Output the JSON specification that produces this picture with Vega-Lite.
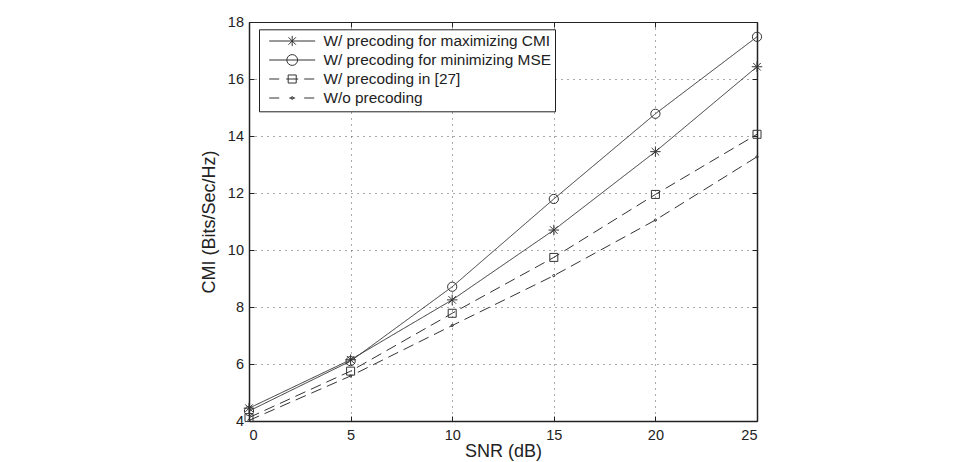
{
  "$schema": "https://vega.github.io/schema/vega-lite/v6.json",
  "width": 508,
  "height": 399,
  "autosize": {"type": "none"},
  "padding": {"left": 249, "top": 22, "right": 213, "bottom": 41},
  "background": "white",
  "config": {
    "font": "Liberation Sans",
    "view": {"stroke": "#222", "strokeWidth": 1}
  },
  "data": {
    "values": [
      {"series": "W/ precoding for maximizing CMI", "snr": 0, "cmi": 4.45},
      {"series": "W/ precoding for maximizing CMI", "snr": 5, "cmi": 6.15},
      {"series": "W/ precoding for maximizing CMI", "snr": 10, "cmi": 8.25},
      {"series": "W/ precoding for maximizing CMI", "snr": 15, "cmi": 10.7},
      {"series": "W/ precoding for maximizing CMI", "snr": 20, "cmi": 13.45},
      {"series": "W/ precoding for maximizing CMI", "snr": 25, "cmi": 16.43},
      {"series": "W/ precoding for minimizing MSE", "snr": 0, "cmi": 4.35},
      {"series": "W/ precoding for minimizing MSE", "snr": 5, "cmi": 6.1},
      {"series": "W/ precoding for minimizing MSE", "snr": 10, "cmi": 8.71},
      {"series": "W/ precoding for minimizing MSE", "snr": 15, "cmi": 11.79},
      {"series": "W/ precoding for minimizing MSE", "snr": 20, "cmi": 14.78},
      {"series": "W/ precoding for minimizing MSE", "snr": 25, "cmi": 17.48},
      {"series": "W/ precoding in [27]", "snr": 0, "cmi": 4.12},
      {"series": "W/ precoding in [27]", "snr": 5, "cmi": 5.75},
      {"series": "W/ precoding in [27]", "snr": 10, "cmi": 7.78},
      {"series": "W/ precoding in [27]", "snr": 15, "cmi": 9.74},
      {"series": "W/ precoding in [27]", "snr": 20, "cmi": 11.95},
      {"series": "W/ precoding in [27]", "snr": 25, "cmi": 14.06},
      {"series": "W/o precoding", "snr": 0, "cmi": 4.02},
      {"series": "W/o precoding", "snr": 5, "cmi": 5.58},
      {"series": "W/o precoding", "snr": 10, "cmi": 7.35},
      {"series": "W/o precoding", "snr": 15, "cmi": 9.1},
      {"series": "W/o precoding", "snr": 20, "cmi": 11.05},
      {"series": "W/o precoding", "snr": 25, "cmi": 13.27}
    ]
  },
  "layer": [
    {
      "mark": {"type": "line", "color": "#333", "strokeWidth": 1},
      "encoding": {
        "x": {
          "field": "snr", "type": "quantitative",
          "scale": {"domain": [0, 25], "nice": false, "zero": false},
          "axis": {
            "orient": "bottom", "values": [0, 5, 10, 15, 20, 25],
            "grid": true, "gridDash": [1, 5], "gridColor": "#555", "gridOpacity": 1,
            "domainColor": "#222", "domainWidth": 1.5,
            "tickSize": -5, "tickColor": "#222",
            "labelFontSize": 14.5, "labelColor": "#222", "labelPadding": 12,
            "title": "SNR (dB)", "titleFontSize": 18, "titleFontWeight": "normal", "titleColor": "#222",
            "titleX": 254, "titleY": 30, "titleAlign": "center", "titleBaseline": "middle"
          }
        },
        "y": {
          "field": "cmi", "type": "quantitative",
          "scale": {"domain": [4, 18], "nice": false, "zero": false},
          "axis": {
            "orient": "left", "values": [4, 6, 8, 10, 12, 14, 16, 18],
            "grid": true, "gridDash": [1, 5], "gridColor": "#555", "gridOpacity": 1,
            "domainColor": "#222", "domainWidth": 1.5,
            "tickSize": -5, "tickColor": "#222",
            "labelFontSize": 14.5, "labelColor": "#222", "labelPadding": 10.5,
            "title": "CMI (Bits/Sec/Hz)", "titleFontSize": 18, "titleFontWeight": "normal", "titleColor": "#222",
            "titleX": -40, "titleY": 199.5, "titleAlign": "center", "titleBaseline": "middle"
          }
        },
        "detail": {"field": "series"},
        "strokeDash": {
          "field": "series", "type": "nominal",
          "scale": {
            "domain": ["W/ precoding for maximizing CMI", "W/ precoding for minimizing MSE", "W/ precoding in [27]", "W/o precoding"],
            "range": [[1, 0], [1, 0], [11, 6], [11, 6]]
          },
          "legend": null
        }
      }
    },
    {
      "mark": {"type": "point", "filled": false, "color": "#333", "strokeWidth": 1, "opacity": 1},
      "encoding": {
        "x": {"field": "snr", "type": "quantitative", "axis": null},
        "y": {"field": "cmi", "type": "quantitative", "axis": null},
        "shape": {
          "field": "series", "type": "nominal",
          "scale": {
            "domain": ["W/ precoding for maximizing CMI", "W/ precoding for minimizing MSE", "W/ precoding in [27]", "W/o precoding"],
            "range": ["M0,-1V1M-1,0H1M-0.72,-0.72L0.72,0.72M-0.72,0.72L0.72,-0.72", "circle", "square", "circle"]
          },
          "legend": null
        },
        "size": {
          "field": "series", "type": "nominal",
          "scale": {
            "type": "ordinal",
            "domain": ["W/ precoding for maximizing CMI", "W/ precoding for minimizing MSE", "W/ precoding in [27]", "W/o precoding"],
            "range": [110, 85, 64, 5]
          },
          "legend": null
        }
      }
    },
    {
      "transform": [{"filter": "false"}],
      "mark": {"type": "point", "filled": false, "color": "#333", "strokeWidth": 1, "size": 144, "opacity": 1},
      "encoding": {
        "x": {
          "field": "snr", "type": "quantitative",
          "axis": {"orient": "top", "values": [0, 5, 10, 15, 20, 25], "labels": false, "title": null, "grid": false, "domainColor": "#222", "tickSize": -5, "tickColor": "#222"}
        },
        "y": {
          "field": "cmi", "type": "quantitative",
          "axis": {"orient": "right", "values": [4, 6, 8, 10, 12, 14, 16, 18], "labels": false, "title": null, "grid": false, "domainColor": "#222", "domainWidth": 1.5, "tickSize": -5, "tickColor": "#222"}
        },
        "shape": {
          "field": "series", "type": "nominal",
          "scale": {
            "domain": ["W/ precoding for maximizing CMI", "W/ precoding for minimizing MSE", "W/ precoding in [27]", "W/o precoding"],
            "range": [
              "M-3.83,0H3.83M0,-0.85V0.85M-0.62,-0.62L0.62,0.62M-0.62,0.62L0.62,-0.62",
              "M-3.83,0H-0.9M0.9,0H3.83M0.9,0A0.9,0.9 0 1,1 -0.9,0A0.9,0.9 0 1,1 0.9,0M-0.9,0H0.9",
              "M-3.83,0H-2.17M-1,0H1M2,0H3.67M-0.67,-0.67H0.67V0.67H-0.67Z",
              "M-3.83,0H-2.17M-0.5,0H0.5M2,0H3.67M0.22,0A0.22,0.22 0 1,1 -0.22,0A0.22,0.22 0 1,1 0.22,0"
            ]
          },
          "legend": {
            "title": null,
            "orient": "none",
            "legendX": 10,
            "legendY": 7.3,
            "padding": 4,
            "strokeColor": "#222",
            "fillColor": "white",
            "cornerRadius": 0,
            "symbolSize": 144,
            "symbolOffset": 21.5,
            "symbolFillColor": "transparent",
            "symbolStrokeColor": "#333",
            "symbolStrokeWidth": 1,
            "symbolOpacity": 1,
            "labelOffset": 23.5,
            "labelFontSize": 15.4,
            "labelColor": "#222",
            "labelLimit": 400,
            "rowPadding": 2
          }
        }
      }
    }
  ],
  "resolve": {
    "scale": {"shape": "independent", "size": "independent"},
    "axis": {"x": "independent", "y": "independent"}
  }
}
